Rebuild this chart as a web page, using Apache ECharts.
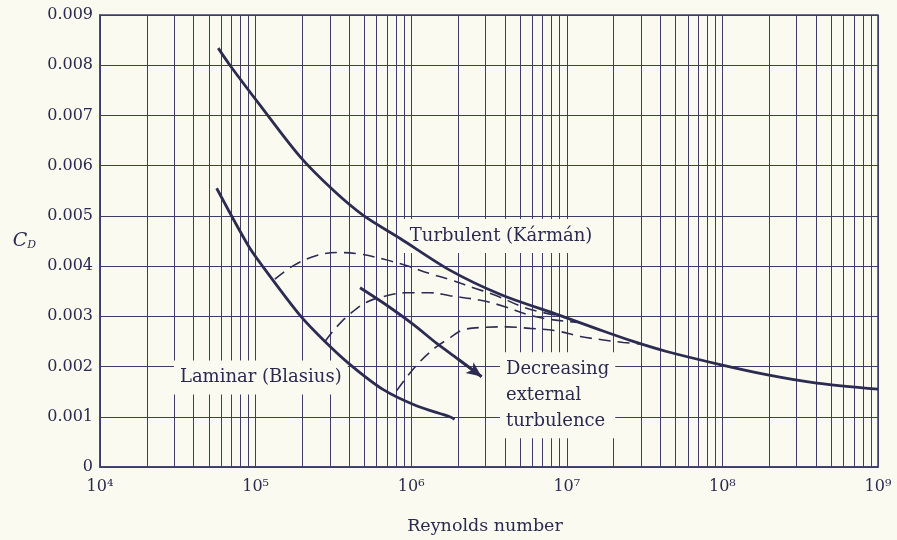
<!DOCTYPE html>
<html>
<head>
<meta charset="utf-8">
<script src="https://cdn.jsdelivr.net/npm/echarts@6/dist/echarts.min.js"></script>
<style>
html,body{margin:0;padding:0;background:#fbfaf1;}
#chart{width:897px;height:540px;}
</style>
</head>
<body>
<div id="chart"></div>
<script>
// ---- Data ----
const xTickLabels = ['10⁴', '10⁵', '10⁶', '10⁷', '10⁸', '10⁹'];
const yTickLabels = ['0', '0.001', '0.002', '0.003', '0.004', '0.005', '0.006', '0.007', '0.008', '0.009'];

const turbulentRe = [5.75e4, 6.84e4, 1.07e5, 1.93e5, 3.16e5, 4.92e5, 8.5e5, 1.77e6, 3.72e6, 9.0e6, 1.63e7, 2.67e7, 4.38e7, 9.67e7, 1.92e8, 4.04e8, 1e9];
const turbulentCd = [0.00834, 0.0080, 0.0072, 0.00618, 0.00551, 0.00501, 0.00455, 0.00392, 0.00344, 0.00302, 0.00273, 0.0025, 0.0023, 0.00204, 0.00184, 0.00167, 0.00155];

const laminarRe = [5.62e4, 9.0e4, 1.12e5, 1.93e5, 2.79e5, 4.05e5, 6.62e5, 1.08e6, 1.77e6, 1.9e6];
const laminarCd = [0.00555, 0.0044, 0.00398, 0.00302, 0.0025, 0.00204, 0.00154, 0.00122, 0.00100, 0.00095];

const trans1Re = [1.33e5, 1.75e5, 2.47e5, 3.4e5, 4.69e5, 6.6e5, 9.3e5, 1.32e6, 1.77e6, 2.5e6, 3.54e6, 5.0e6, 6.7e6, 9.5e6];
const trans1Cd = [0.00374, 0.00401, 0.00421, 0.00427, 0.00424, 0.00414, 0.00401, 0.00385, 0.00373, 0.00357, 0.00341, 0.00321, 0.00309, 0.00300];

const trans2Re = [2.79e5, 3.32e5, 4.05e5, 5.17e5, 6.95e5, 9.3e5, 1.32e6, 1.77e6, 2.9e6, 4.1e6, 5.8e6, 8.2e6, 1.2e7];
const trans2Cd = [0.0025, 0.00279, 0.00305, 0.00328, 0.00341, 0.00347, 0.00347, 0.00341, 0.00331, 0.00318, 0.00302, 0.00293, 0.00288];

const trans3Re = [8.07e5, 9.3e5, 1.14e6, 1.42e6, 1.77e6, 2.16e6, 2.9e6, 4.1e6, 5.8e6, 8.6e6, 1.22e7, 1.72e7, 2.31e7, 3.0e7];
const trans3Cd = [0.00152, 0.00178, 0.0021, 0.00237, 0.00257, 0.00273, 0.00278, 0.00279, 0.00276, 0.00271, 0.0026, 0.00253, 0.00248, 0.00245];

const arrowRe = [4.69e5, 6.6e5, 1.03e6, 1.46e6, 2.0e6, 2.83e6];
const arrowCd = [0.00357, 0.00327, 0.00284, 0.00246, 0.00215, 0.0018];

const annoTexts = ['Turbulent (Kármán)', 'Laminar (Blasius)', 'Decreasing\nexternal\nturbulence'];
const annoRe = [3.78e6, 1.08e5, 3.72e6];
const annoCd = [0.0046, 0.00178, 0.00143];

const decades = [1e4, 1e5, 1e6, 1e7, 1e8];
const minorSteps = [2, 3, 4, 5, 6, 7, 8, 9];

// ---- Styles ----
const bg = '#fbfaf1';
const ink = '#2c2c52';
const gridColor = '#3d3d68';
const textColor = '#2a2a50';
const font = 'DejaVu Serif';

const pairs = (xs, ys) => xs.map((x, i) => [x, ys[i]]);
const minorRe = [];
decades.forEach(d => minorSteps.forEach(s => minorRe.push(d * s)));

const chart = echarts.init(document.getElementById('chart'), null, {renderer: 'canvas'});

const solid = {color: ink, width: 2.8};
const dashed = {color: ink, width: 1.6, type: [12, 7]};

const option = {
  backgroundColor: bg,
  animation: false,
  grid: {left: 100, right: 19, top: 15, bottom: 67, show: true, borderColor: gridColor, borderWidth: 1.5},
  xAxis: {
    type: 'log', logBase: 10, min: 1e4, max: 1e9,
    name: 'Reynolds number', nameLocation: 'middle', nameGap: 50,
    nameTextStyle: {fontFamily: font, fontSize: 17.5, color: textColor, padding: [0, 8, 0, 0]},
    axisLine: {show: true, lineStyle: {color: gridColor, width: 1.5}},
    axisTick: {show: false},
    splitLine: {show: true, lineStyle: {color: gridColor, width: 1}},
    minorTick: {show: false}, minorSplitLine: {show: false},
    axisLabel: {
      fontFamily: font, fontSize: 16, color: textColor, margin: 12,
      formatter: v => xTickLabels[Math.round(Math.log10(v)) - 4]
    }
  },
  yAxis: {
    type: 'value', min: 0, max: 0.009, interval: 0.001,
    name: '{c|C}{d|D}', nameLocation: 'middle', nameRotate: 0, nameGap: 64,
    nameTextStyle: {
      rich: {
        c: {fontFamily: font, fontStyle: 'italic', fontSize: 19, color: textColor},
        d: {fontFamily: font, fontStyle: 'italic', fontSize: 11, color: textColor, padding: [8, 0, 0, 0]}
      }
    },
    axisLine: {show: true, lineStyle: {color: gridColor, width: 1.5}},
    axisTick: {show: false},
    splitLine: {show: true, lineStyle: {color: gridColor, width: 1}},
    axisLabel: {
      fontFamily: font, fontSize: 16, color: textColor, margin: 7,
      formatter: v => yTickLabels[Math.round(v / 0.001)]
    }
  },
  series: [
    {
      name: 'minor grid', type: 'line', data: [], z: 1, silent: true,
      markLine: {
        z: 1, silent: true, symbol: ['none', 'none'], label: {show: false},
        lineStyle: {color: gridColor, width: 1, type: 'solid'},
        emphasis: {disabled: true},
        data: minorRe.map(v => ({xAxis: v}))
      }
    },
    {
      name: 'annotations', type: 'scatter', z: 3, symbolSize: 0, silent: true,
      itemStyle: {opacity: 1},
      data: annoRe.map((r, i) => ({
        value: [r, annoCd[i]],
        itemStyle: {opacity: 1},
        label: {
          show: true, formatter: annoTexts[i],
          position: 'inside', opacity: 1,
          align: i === 2 ? 'left' : 'center',
          fontFamily: font, fontSize: 18, color: textColor,
          lineHeight: 26,
          backgroundColor: bg, padding: [4, 6]
        }
      }))
    },
    {name: 'Turbulent', type: 'line', z: 4, showSymbol: false, smooth: 0.3, lineStyle: solid, data: pairs(turbulentRe, turbulentCd)},
    {name: 'Laminar', type: 'line', z: 4, showSymbol: false, smooth: 0.3, lineStyle: solid, data: pairs(laminarRe, laminarCd)},
    {name: 'Transition 1', type: 'line', z: 4, showSymbol: false, smooth: 0.4, lineStyle: dashed, data: pairs(trans1Re, trans1Cd)},
    {name: 'Transition 2', type: 'line', z: 4, showSymbol: false, smooth: 0.4, lineStyle: dashed, data: pairs(trans2Re, trans2Cd)},
    {name: 'Transition 3', type: 'line', z: 4, showSymbol: false, smooth: 0.4, lineStyle: dashed, data: pairs(trans3Re, trans3Cd)},
    {
      name: 'Arrow', type: 'line', z: 4, showSymbol: false, smooth: 0.3, lineStyle: solid,
      data: pairs(arrowRe, arrowCd),
      markLine: {
        silent: true, symbol: ['none', 'arrow'], symbolSize: [10, 15], label: {show: false},
        lineStyle: {color: ink, width: 2.8, type: 'solid'},
        emphasis: {disabled: true},
        data: [[{coord: [arrowRe[arrowRe.length - 2], arrowCd[arrowCd.length - 2]]},
                {coord: [arrowRe[arrowRe.length - 1], arrowCd[arrowCd.length - 1]]}]]
      }
    }
  ]
};
chart.setOption(option);
</script>
</body>
</html>
